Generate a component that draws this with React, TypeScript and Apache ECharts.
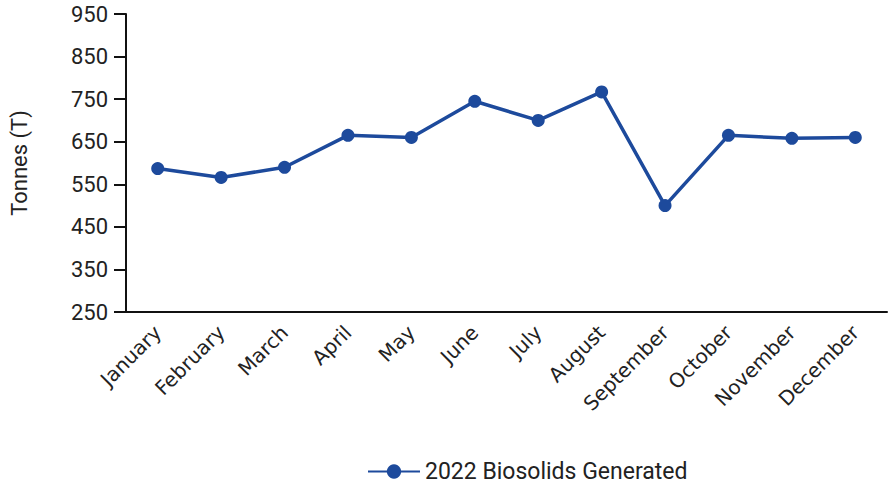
import React, { useEffect, useRef } from "react";
import * as echarts from "echarts";

const months = ["January", "February", "March", "April", "May", "June", "July", "August", "September", "October", "November", "December"];
const biosolids = [587, 566, 590, 665, 660, 745, 700, 767, 500, 665, 658, 660];
const seriesName = "2022 Biosolids Generated";
const yMin = 250;
const yMax = 950;
const yStep = 100;

export default function App() {
  const ref = useRef<HTMLDivElement>(null);
  useEffect(() => {
    if (!ref.current) return;
    const chart = echarts.init(ref.current, null, { renderer: "svg" });
    const color = "#1d4a9c";
    chart.setOption({
      animation: false,
      grid: { left: 125, right: 6, top: 14, bottom: 173, containLabel: false },
      legend: {
        bottom: -3,
        left: 362,
        itemWidth: 52,
        itemHeight: 18,
        itemGap: 12,
        textStyle: { fontFamily: "Roboto", fontSize: 23, color: "#222" },
        data: [seriesName],
      },
      xAxis: {
        type: "category",
        data: months,
        boundaryGap: true,
        axisLine: { lineStyle: { color: "#111", width: 2 } },
        axisTick: { length: 10, lineStyle: { color: "#111", width: 2 } },
        axisLabel: { rotate: 45, margin: 17, fontFamily: "DejaVu Sans", fontSize: 20, color: "#222" },
      },
      yAxis: {
        type: "value",
        min: yMin,
        max: yMax,
        interval: yStep,
        name: "Tonnes (T)",
        nameLocation: "middle",
        nameGap: 96,
        nameRotate: 90,
        nameTextStyle: { fontFamily: "Roboto", fontSize: 22, color: "#222" },
        splitLine: { show: false },
        axisLine: { show: true, lineStyle: { color: "#111", width: 2 } },
        axisTick: { show: true, length: 12, lineStyle: { color: "#111", width: 2 } },
        axisLabel: { margin: 18, fontFamily: "Roboto", fontSize: 22, color: "#222" },
      },
      series: [
        {
          name: seriesName,
          type: "line",
          data: biosolids,
          symbol: "circle",
          symbolSize: 13,
          lineStyle: { color, width: 3.5 },
          itemStyle: { color },
        },
      ],
    });
    return () => chart.dispose();
  }, []);
  return <div ref={ref} style={{ width: 893, height: 485, position: "absolute", left: 0, top: 0 }} />;
}
